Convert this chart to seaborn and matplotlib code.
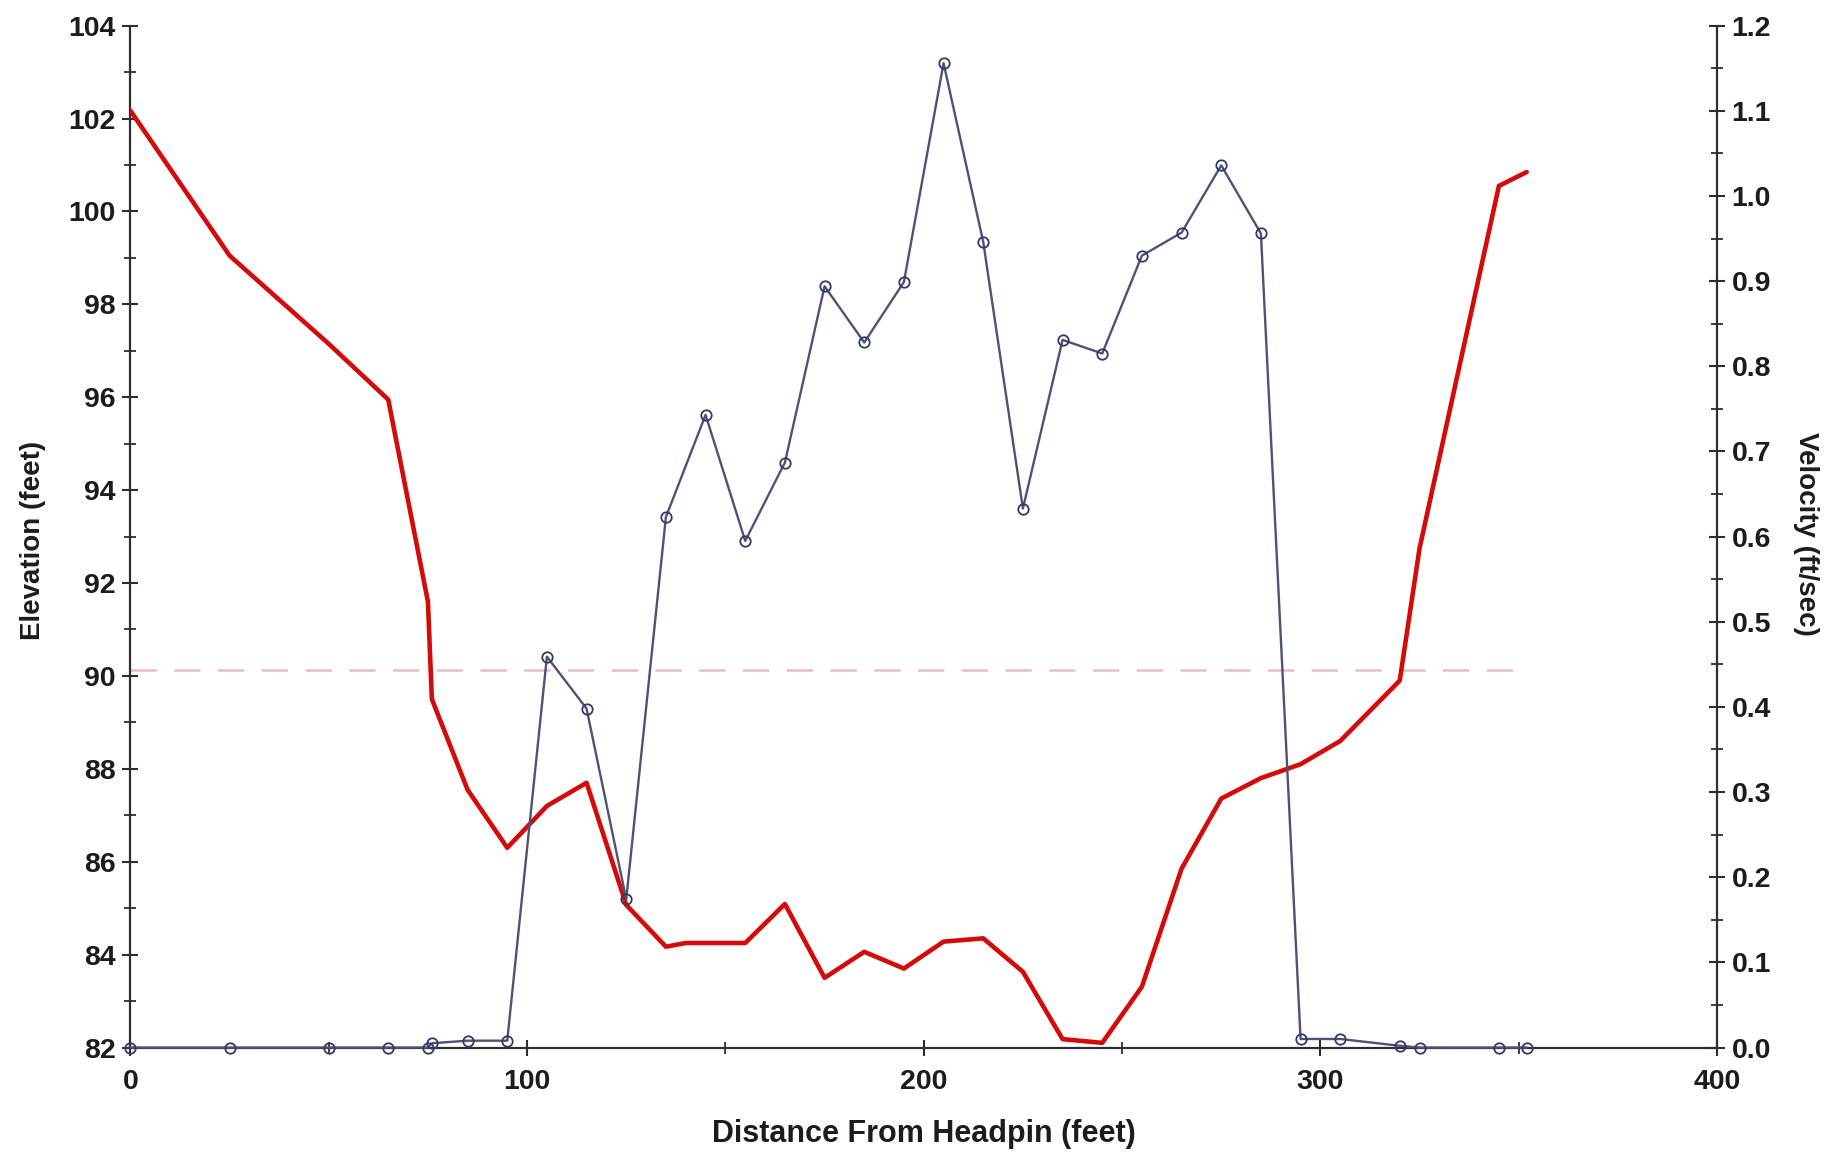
import matplotlib
matplotlib.use("Agg")
import matplotlib.pyplot as plt
from matplotlib.ticker import MultipleLocator, FormatStrFormatter
import numpy as np
import pandas as pd
import seaborn as sns

# Ground profile along the lane (distance from headpin, feet)
elev_dist = [0, 25, 50, 65, 75, 76, 85, 95, 105, 115, 125, 135, 140, 155, 165,
             175, 185, 195, 205, 215, 225, 235, 245, 255, 265, 275, 285, 295,
             305, 320, 325, 345, 352]
elevation = [102.17, 99.05, 97.15, 95.95, 91.6, 89.5, 87.55, 86.3, 87.2, 87.7,
             85.07, 84.17, 84.25, 84.25, 85.09, 83.5, 84.06, 83.7, 84.28, 84.35,
             83.63, 82.18, 82.1, 83.31, 85.85, 87.36, 87.8, 88.1, 88.6, 89.9,
             92.75, 100.55, 100.85]

# Measured flow velocity at each station
vel_dist = [0, 25, 50, 65, 75, 76, 85, 95, 105, 115, 125, 135, 145, 155, 165,
            175, 185, 195, 205, 215, 225, 235, 245, 255, 265, 275, 285, 295,
            305, 320, 325, 345, 352]
velocity = [0.0, 0.0, 0.0, 0.0, 0.0, 0.005, 0.008, 0.008, 0.459, 0.398, 0.174,
            0.623, 0.743, 0.595, 0.687, 0.894, 0.828, 0.899, 1.156, 0.946,
            0.633, 0.831, 0.815, 0.930, 0.957, 1.036, 0.956, 0.010, 0.010,
            0.002, 0.0, 0.0, 0.0]

# Water surface level
water_level = 90.13
water_extent = [0, 352]

x_ticks = [0, 100, 200, 300, 400]
elev_ticks = list(range(82, 105, 2))
vel_ticks = [round(0.1 * i, 1) for i in range(13)]

elev_df = pd.DataFrame({"dist": elev_dist, "elev": elevation})
vel_df = pd.DataFrame({"dist": vel_dist, "vel": velocity})

sns.set_style("ticks")
plt.rcParams["font.family"] = ["Liberation Sans", "DejaVu Sans"]
plt.rcParams["font.weight"] = "bold"

fig = plt.figure(figsize=(18.29, 11.53), dpi=100)
ax = fig.add_axes([0.0713, 0.0915, 0.8675, 0.8862])
ax2 = ax.twinx()

ink = "#1c1c1c"
spine_col = "#2e2e2e"

# water level
ax.plot(water_extent, [water_level] * 2, color="#e9bccb", lw=1.8,
        linestyle=(0, (10.5, 7.0)), zorder=1)

# elevation profile
sns.lineplot(data=elev_df, x="dist", y="elev", ax=ax, color="#d50a0a",
             linewidth=3.3, sort=False, zorder=3)

# velocity profile
sns.lineplot(data=vel_df, x="dist", y="vel", ax=ax2, color="#4d5276",
             linewidth=1.7, marker="o", markersize=7.5,
             markerfacecolor="none", markeredgecolor="#33386a",
             markeredgewidth=1.3, sort=False, zorder=4, clip_on=False)

ax.set_xlim(0, 400)
ax.set_ylim(82, 104)
ax2.set_ylim(0, 1.2)

ax.set_xticks(x_ticks)
ax.xaxis.set_minor_locator(MultipleLocator(50))
ax.set_yticks(elev_ticks)
ax.yaxis.set_minor_locator(MultipleLocator(1))
ax2.set_yticks(vel_ticks)
ax2.yaxis.set_minor_locator(MultipleLocator(0.05))
ax2.yaxis.set_major_formatter(FormatStrFormatter("%.1f"))

for a in (ax, ax2):
    a.tick_params(which="major", direction="inout", length=11, width=1.5,
                  color=spine_col, labelsize=20.5, labelcolor=ink, pad=5)
    a.tick_params(which="minor", direction="inout", length=8, width=1.3,
                  color=spine_col)
    for side in ("left", "right", "bottom"):
        a.spines[side].set_color(spine_col)
        a.spines[side].set_linewidth(1.6)
    a.spines["top"].set_visible(False)
    for lab in a.get_xticklabels() + a.get_yticklabels():
        lab.set_fontweight("bold")

ax.tick_params(axis="x", which="major", pad=10)
ax2.spines["left"].set_visible(False)
ax2.spines["bottom"].set_visible(False)
ax.spines["right"].set_visible(False)

ax.set_xlabel("Distance From Headpin (feet)", fontsize=22, fontweight="bold",
              color=ink)
ax.set_ylabel("Elevation (feet)", fontsize=20, fontweight="bold", color=ink)
ax2.set_ylabel("Velocity (ft/sec)", fontsize=20, fontweight="bold", color=ink,
               rotation=270)
ax.xaxis.label.set_verticalalignment("center")
ax.yaxis.label.set_verticalalignment("center")
ax2.yaxis.label.set_verticalalignment("center")
ax.xaxis.set_label_coords(0.5, -0.0847)
ax.yaxis.set_label_coords(-0.0617, 0.4967)
ax2.yaxis.set_label_coords(1.0561, 0.5025)

ax.set_zorder(1)
ax2.set_zorder(2)
ax.patch.set_visible(True)
ax2.patch.set_visible(False)
fig.patch.set_facecolor("white")

fig.savefig("out.png", dpi=100, facecolor="white")
